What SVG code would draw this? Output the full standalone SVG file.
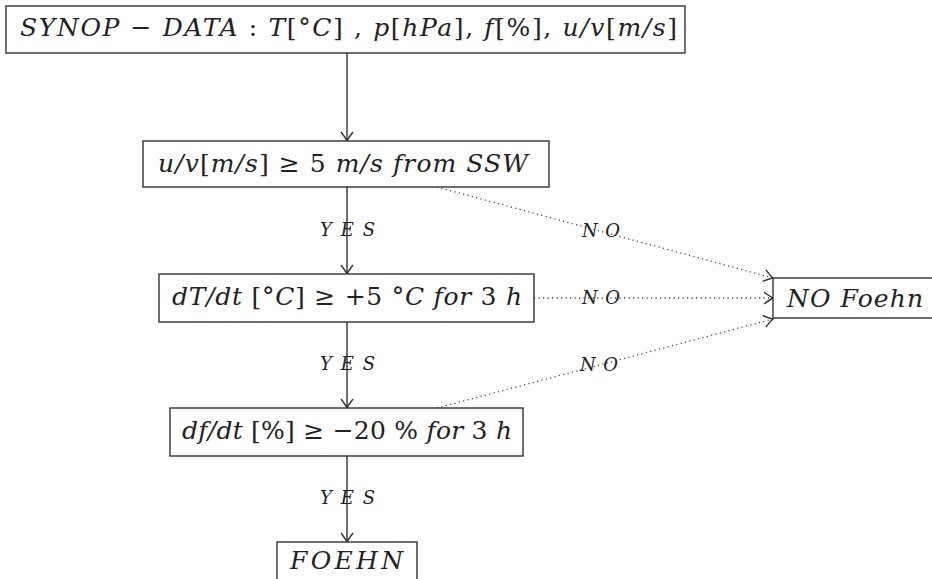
<svg xmlns="http://www.w3.org/2000/svg" width="932" height="579" viewBox="0 0 932 579">
<style>
.box{fill:#fff;stroke:#333;stroke-width:1.4}
.t{font-family:'DejaVu Serif','Liberation Serif',serif;font-style:italic;font-size:25px;fill:#222}
.r{font-style:normal}
.lbl{font-family:'DejaVu Serif','Liberation Serif',serif;font-style:italic;font-size:18px;fill:#222}
.solid{stroke:#333;stroke-width:1.4;fill:none}
.dot{stroke:#444;stroke-width:1.3;fill:none;stroke-dasharray:1.2 3.3}
</style>
<defs>
<marker id="arr" markerUnits="userSpaceOnUse" orient="auto" refX="0" refY="0" viewBox="-11 -8 13 16" markerWidth="13" markerHeight="16" overflow="visible">
<path d="M-9,-6 C-5,-3 -2,-0.8 0,0 C-2,0.8 -5,3 -9,6" fill="none" stroke="#333" stroke-width="1.4"/>
</marker>
</defs>
<rect width="932" height="579" fill="#fff"/>
<g id="connectors">
<line class="solid" x1="347" y1="53" x2="347" y2="141" marker-end="url(#arr)"/>
<line class="solid" x1="347" y1="187" x2="347" y2="274" marker-end="url(#arr)"/>
<line class="solid" x1="347" y1="322" x2="347" y2="408" marker-end="url(#arr)"/>
<line class="solid" x1="347" y1="456" x2="347" y2="542" marker-end="url(#arr)"/>
<line class="dot" x1="437" y1="187" x2="773" y2="278" marker-end="url(#arr)"/>
<line class="dot" x1="534" y1="298" x2="773" y2="298" marker-end="url(#arr)"/>
<line class="dot" x1="437" y1="408" x2="773" y2="319" marker-end="url(#arr)"/>
<text class="lbl" x="320" y="236" textLength="55" lengthAdjust="spacing">YES</text>
<text class="lbl" x="320" y="370" textLength="55" lengthAdjust="spacing">YES</text>
<text class="lbl" x="320" y="504" textLength="55" lengthAdjust="spacing">YES</text>
<text class="lbl" x="582" y="237" textLength="38" lengthAdjust="spacing">NO</text>
<text class="lbl" x="582" y="304" textLength="38" lengthAdjust="spacing">NO</text>
<text class="lbl" x="580" y="371" textLength="38" lengthAdjust="spacing">NO</text>
</g>
<g id="n-synop">
<rect class="box" x="6" y="6" width="679" height="47"/>
<text class="t" x="20" y="36" textLength="657" lengthAdjust="spacing">SYNOP <tspan class="r">−</tspan> DATA<tspan class="r"> : </tspan>T<tspan class="r">[°</tspan>C<tspan class="r">] , </tspan>p<tspan class="r">[</tspan>hPa<tspan class="r">], </tspan>f<tspan class="r">[%], </tspan>u/v<tspan class="r">[</tspan>m/s<tspan class="r">]</tspan></text>
</g>
<g id="n-wind">
<rect class="box" x="143" y="141" width="406" height="46"/>
<text class="t" x="158" y="172" textLength="370" lengthAdjust="spacing">u/v<tspan class="r">[</tspan>m/s<tspan class="r">] ≥ 5 </tspan>m/s from SSW</text>
</g>
<g id="n-temp">
<rect class="box" x="159" y="274" width="375" height="48"/>
<text class="t" x="172" y="305" textLength="350" lengthAdjust="spacing">dT/dt <tspan class="r">[°</tspan>C<tspan class="r">] ≥ +5 °</tspan>C for <tspan class="r">3</tspan> h</text>
</g>
<g id="n-hum">
<rect class="box" x="170" y="408" width="353" height="48"/>
<text class="t" x="182" y="439" textLength="330" lengthAdjust="spacing">df/dt <tspan class="r">[%] ≥ −20 % </tspan>for <tspan class="r">3</tspan> h</text>
</g>
<g id="n-foehn">
<rect class="box" x="277" y="542" width="140" height="60"/>
<text class="t" x="290" y="569" textLength="113" lengthAdjust="spacing">FOEHN</text>
</g>
<g id="n-nofoehn">
<rect class="box" x="773" y="278" width="180" height="40"/>
<text class="t" x="787" y="307" textLength="136" lengthAdjust="spacing">NO Foehn</text>
</g>
</svg>
